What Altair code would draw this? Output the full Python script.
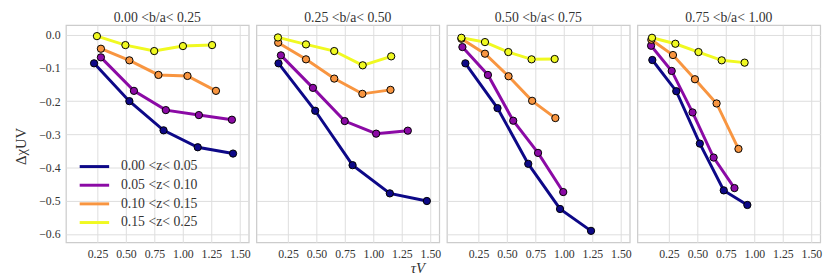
import altair as alt
import pandas as pd

panel_titles = ["0.00 <b/a< 0.25", "0.25 <b/a< 0.50", "0.50 <b/a< 0.75", "0.75 <b/a< 1.00"]
series_labels = ["0.00 <z< 0.05", "0.05 <z< 0.10", "0.10 <z< 0.15", "0.15 <z< 0.25"]
colors = ["#0d0887", "#8b0aa5", "#f89540", "#f0f921"]

# tau_V values per panel, one list per z-bin (navy, purple, orange, yellow)
tau_p1 = [[0.22, 0.53, 0.83, 1.13, 1.44],
          [0.28, 0.57, 0.85, 1.14, 1.43],
          [0.28, 0.53, 0.785, 1.04, 1.29],
          [0.245, 0.495, 0.748, 1.00, 1.256]]
dchi_p1 = [[-0.086, -0.200, -0.288, -0.339, -0.358],
           [-0.068, -0.169, -0.227, -0.242, -0.256],
           [-0.042, -0.077, -0.121, -0.124, -0.169],
           [-0.004, -0.031, -0.049, -0.034, -0.031]]

tau_p2 = [[0.167, 0.489, 0.817, 1.144, 1.469],
          [0.188, 0.469, 0.748, 1.024, 1.302],
          [0.164, 0.408, 0.656, 0.903, 1.150],
          [0.162, 0.408, 0.656, 0.906, 1.156]]
dchi_p2 = [[-0.086, -0.229, -0.393, -0.478, -0.501],
           [-0.062, -0.160, -0.260, -0.298, -0.289],
           [-0.024, -0.074, -0.132, -0.178, -0.166],
           [-0.008, -0.029, -0.049, -0.092, -0.065]]

tau_p3 = [[0.135, 0.417, 0.687, 0.966, 1.238],
          [0.109, 0.333, 0.555, 0.773, 0.994],
          [0.100, 0.307, 0.514, 0.721, 0.925],
          [0.100, 0.307, 0.512, 0.716, 0.919]]
dchi_p3 = [[-0.086, -0.221, -0.389, -0.525, -0.591],
           [-0.037, -0.121, -0.259, -0.356, -0.474],
           [-0.012, -0.057, -0.125, -0.199, -0.251],
           [-0.009, -0.022, -0.052, -0.074, -0.073]]

tau_p4 = [[0.104, 0.314, 0.521, 0.731, 0.938],
          [0.093, 0.274, 0.457, 0.642, 0.825],
          [0.095, 0.285, 0.478, 0.668, 0.860],
          [0.101, 0.306, 0.509, 0.713, 0.914]]
dchi_p4 = [[-0.076, -0.170, -0.328, -0.469, -0.513],
           [-0.033, -0.109, -0.234, -0.370, -0.462],
           [-0.015, -0.061, -0.134, -0.207, -0.344],
           [-0.009, -0.027, -0.052, -0.077, -0.084]]

x_ticks = [0.25, 0.50, 0.75, 1.00, 1.25, 1.50]
y_ticks = [0.0, -0.1, -0.2, -0.3, -0.4, -0.5, -0.6]

taus = [tau_p1, tau_p2, tau_p3, tau_p4]
dchis = [dchi_p1, dchi_p2, dchi_p3, dchi_p4]

rows = []
for p in range(4):
    for s in range(4):
        for i, (tx, dy) in enumerate(zip(taus[p][s], dchis[p][s])):
            rows.append({"panel": p, "series": series_labels[s], "i": i, "tau": tx, "d": dy})
df = pd.DataFrame(rows)

FONT = "Liberation Serif"
XDOM = [-0.027, 1.578]
YDOM = [-0.626, 0.029]
W, H = 186.2, 221.3


def panel(k):
    d = df[df.panel == k]
    first = k == 0
    cscale = alt.Scale(domain=series_labels, range=colors)
    xenc = alt.X("tau:Q", scale=alt.Scale(domain=XDOM, nice=False, zero=False),
                 axis=alt.Axis(values=x_ticks, format=".2f", title=None, grid=True, labelFlush=False))
    if first:
        yaxis = alt.Axis(values=y_ticks, format=".1f", title="ΔχUV", titleY=123,
                         titleFontSize=15, titlePadding=10, grid=True)
        legend = alt.Legend(orient="none", legendX=22, legendY=137, title=None,
                            symbolType="M-3,0H3", symbolSize=100, symbolStrokeWidth=3,
                            labelOffset=20, rowPadding=5, padding=0,
                            labelFont=FONT, labelFontSize=14, labelColor="#333333")
    else:
        yaxis = alt.Axis(values=y_ticks, labels=False, title=None, grid=True)
        legend = None
    yenc = alt.Y("d:Q", scale=alt.Scale(domain=YDOM, nice=False, zero=False), axis=yaxis)
    line = alt.Chart(d).mark_line(strokeWidth=3).encode(
        x=xenc, y=yenc,
        color=alt.Color("series:N", scale=cscale, legend=legend),
        order=alt.Order("i:Q"))
    pts = alt.Chart(d).mark_circle(size=55, stroke="black", strokeWidth=1, opacity=1).encode(
        x=xenc, y=yenc,
        fill=alt.Fill("series:N", scale=cscale, legend=None))
    return alt.layer(line, pts).properties(
        width=W, height=H,
        title=alt.TitleParams(panel_titles[k], font=FONT, fontSize=14, fontWeight="normal",
                              color="#333333", offset=0))


chart = alt.hconcat(*[panel(k) for k in range(4)], spacing=4).resolve_scale(
    color="independent", fill="independent"
).properties(
    padding={"left": 5, "top": 0, "right": 0, "bottom": 0},
    title=alt.TitleParams("τV", orient="bottom", anchor="middle", frame="bounds",
                          font=FONT, fontSize=15, fontStyle="italic", fontWeight="normal",
                          color="#333333", offset=1),
).configure_view(
    stroke="#cccccc", strokeWidth=1.25
).configure_axis(
    gridColor="#dddddd", gridWidth=1, domain=False, ticks=False, tickSize=0,
    labelFont=FONT, labelFontSize=12, labelColor="#333333", labelPadding=6,
    titleFont=FONT, titleFontWeight="normal", titleColor="#333333"
)

chart.save("out.html", embed_options={"renderer": "svg", "actions": False})
